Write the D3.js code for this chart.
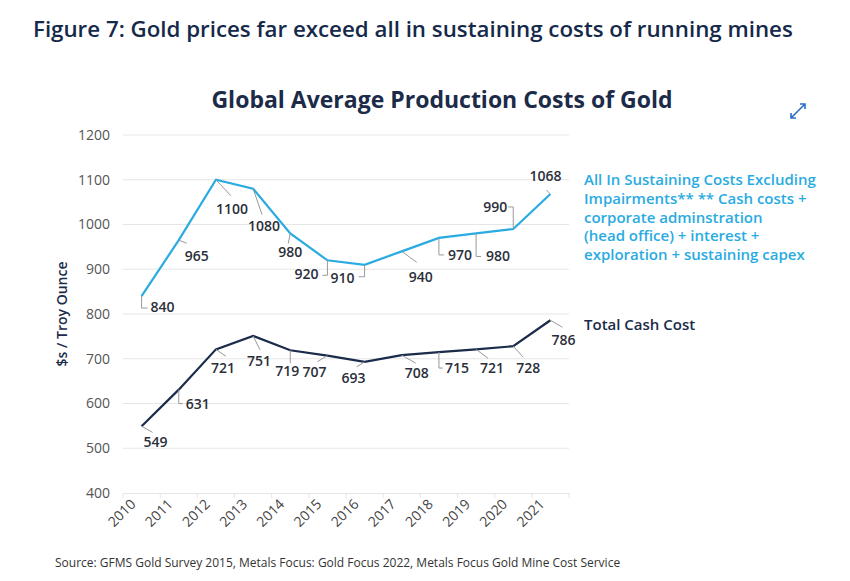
<!DOCTYPE html>
<html><head><meta charset="utf-8">
<script src="https://cdn.jsdelivr.net/npm/d3@7"></script>
<style>body{margin:0;background:#fff}svg{display:block;font-family:"Open Sans",Lato,sans-serif}</style>
</head><body><svg id="c" width="850" height="581"></svg>
<script>
const years = ["2010","2011","2012","2013","2014","2015","2016","2017","2018","2019","2020","2021"];
const aisc = [840,965,1100,1080,980,920,910,940,970,980,990,1068];
const cashCost = [549,631,721,751,719,707,693,708,715,721,728,786];
const yTicks = [400,500,600,700,800,900,1000,1100,1200];
const aiscLegend = ["All In Sustaining Costs Excluding","Impairments**  ** Cash costs +","corporate adminstration","(head office)  + interest +","exploration + sustaining capex"];
const cashLegend = "Total Cash Cost";

// label layout: [dx, dy of text centre, connector knees relative to point]
const aiscLabelLayout = [
 [21,11,[[0,12],[6,12]]],[18,16,[[8,3]]],[16,29,[[15,16]]],[11,37,[[9,26]]],
 [0,19,[[-2,10]]],[-21,14,[[0,15],[-5,15]]],[-22,13,[[0,12],[-6,12]]],[19,26,[[15,11]]],
 [21,17,[[0,17],[5,17]]],[22,23,[[0,23],[5,23]]],[-18,-22,[[0,-22],[-5,-22]]],[-5,-18,[[-4,-4]]]
];
const cashLabelLayout = [
 [14,16,[[11,6]]],[19,14,[[0,14],[4,14]]],[7,19,[[10,7]]],[6,25,[[7,14]]],
 [-3,21,[[0,13]]],[-13,16,[[-10,6]]],[-11,16,[[-8,5]]],[15,18,[[14,8]]],
 [18,16,[[0,16],[4,16]]],[16,19,[[12,9]]],[15,22,[[10,11]]],[13,20,[[12,7]]]
];

const svg = d3.select("#c");
const pLeft = 123, pRight = 569, pTop = 135, pBottom = 493;
const x = d3.scaleBand().domain(years).range([pLeft, pRight]);
const y = d3.scaleLinear().domain([400,1200]).range([pBottom, pTop]);
const cx = d => x(d) + x.bandwidth()/2;

svg.append("text").attr("x",33).attr("y",37).attr("font-size",22.3).attr("font-weight",600)
  .attr("fill","#15294a").text("Figure 7: Gold prices far exceed all in sustaining costs of running mines");
svg.append("text").attr("x",442).attr("y",108).attr("text-anchor","middle").attr("font-size",23)
  .attr("font-weight",700).attr("fill","#1b2b48").text("Global Average Production Costs of Gold");

// grid
svg.append("g").selectAll("line").data(yTicks.filter(t=>t>400)).join("line")
  .attr("x1",pLeft).attr("x2",pRight).attr("y1",d=>y(d)).attr("y2",d=>y(d))
  .attr("stroke","#e6e6e6").attr("stroke-width",1);
// y axis labels
const ya = svg.append("g").attr("transform",`translate(${pLeft},0)`)
  .call(d3.axisLeft(y).tickValues(yTicks).tickFormat(d3.format("d")).tickSize(0).tickPadding(13));
ya.select(".domain").remove();
ya.selectAll("text").attr("font-size",14).attr("fill","#555").attr("font-family","'Open Sans',sans-serif");

// x axis
const xa = svg.append("g").attr("transform",`translate(0,${pBottom})`)
  .call(d3.axisBottom(x).tickSize(0).tickPadding(0));
xa.select(".domain").attr("stroke","#e6e6e6");
const bounds = years.map(d=>x(d)).concat([pRight]);
svg.append("g").selectAll("line").data(bounds).join("line")
  .attr("x1",d=>d).attr("x2",d=>d).attr("y1",pBottom).attr("y2",pBottom+5).attr("stroke","#e6e6e6");
xa.selectAll("text").attr("font-size",14).attr("fill","#444").attr("font-family","'Open Sans',sans-serif")
  .attr("text-anchor","end").attr("dy",0)
  .attr("transform","translate(-5,12) rotate(-45)");

svg.append("text").attr("transform","translate(67,314) rotate(-90)").attr("text-anchor","middle")
  .attr("font-size",14).attr("font-weight",600).attr("fill","#1b2b48").text("$s / Troy Ounce");

function series(vals, color, layout){
  const line = d3.line().x((d,i)=>cx(years[i])).y(d=>y(d));
  svg.append("path").datum(vals).attr("d",line).attr("fill","none").attr("stroke",color).attr("stroke-width",2.2);
  const g = svg.append("g");
  vals.forEach((v,i)=>{
    const px = cx(years[i]), py = y(v), L = layout[i];
    const pts = [[px,py]].concat(L[2].map(k=>[px+k[0],py+k[1]]));
    g.append("path").attr("d",d3.line()(pts)).attr("fill","none").attr("stroke","#999").attr("stroke-width",1);
    g.append("text").attr("x",px+L[0]).attr("y",py+L[1]).attr("dy","0.35em").attr("text-anchor","middle")
      .attr("font-size",14).attr("font-weight",600).attr("fill","#2b2f3a").text(v);
  });
}
series(aisc,"#29abe2",aiscLabelLayout);
series(cashCost,"#1b2b4b",cashLabelLayout);

svg.append("g").selectAll("text").data(aiscLegend).join("text")
  .attr("x",584).attr("y",(d,i)=>185+i*18.8).attr("font-size",15).attr("font-weight",600)
  .attr("fill","#29abe2").text(d=>d);
svg.append("text").attr("x",584).attr("y",330).attr("font-size",15).attr("font-weight",600)
  .attr("fill","#1b2b48").text(cashLegend);

// expand icon
const ic = svg.append("g").attr("stroke","#2a6fc9").attr("stroke-width",1.6).attr("fill","none");
ic.append("path").attr("d","M798,111 L805,104 M800,104 L805,104 L805,109");
ic.append("path").attr("d","M798,111 L791,118 M791,113 L791,118 L796,118");

svg.append("text").attr("x",55).attr("y",567).attr("font-size",12).attr("fill","#333")
  .text("Source: GFMS Gold Survey 2015, Metals Focus: Gold Focus 2022, Metals Focus Gold Mine Cost Service");
</script></body></html>
